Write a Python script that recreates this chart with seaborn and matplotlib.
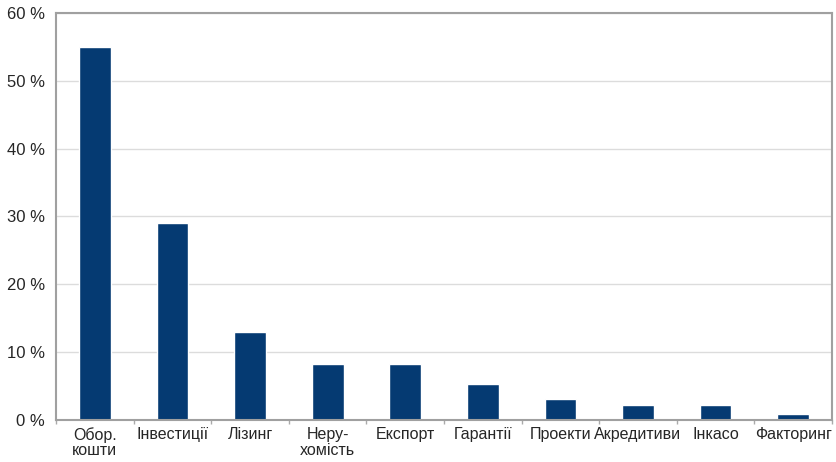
import pandas as pd
import numpy as np
import matplotlib
matplotlib.use("Agg")
import matplotlib.pyplot as plt
import seaborn as sns

sns.set_theme(style="whitegrid")
plt.rcParams['font.family'] = ['Liberation Sans', 'DejaVu Sans']

# дані
categories = ["Обор.\nкошти", "Інвестиції", "Лізинг", "Неру-\nхомість", "Експорт",
              "Гарантії", "Проекти", "Акредитиви", "Інкасо", "Факторинг"]
values = [55.0, 29.0, 13.0, 8.3, 8.3, 5.3, 3.1, 2.2, 2.2, 0.9]
yticks = [0, 10, 20, 30, 40, 50, 60]

df = pd.DataFrame({"cat": categories, "val": values})

fig = plt.figure(figsize=(8.37, 4.62), dpi=100)
ax = fig.add_axes([0.067, 0.091, 0.927, 0.881])

sns.barplot(data=df, x="cat", y="val", color="#053a72", saturation=1, width=0.41, ax=ax)

ax.set_ylim(0, 60)
ax.set_xlim(-0.5, len(categories) - 0.5)
ax.set_yticks(yticks)
ax.set_yticklabels([f"{t} %" for t in yticks], fontsize=12)
ax.set_xticks(range(len(categories)))
ax.set_xticklabels(categories, fontsize=11.5, linespacing=1.05, va="top")
ax.set_xticks(np.arange(-0.5, len(categories)), minor=True)
ax.tick_params(axis="x", which="major", length=0, pad=5)
ax.tick_params(axis="x", which="minor", length=3, color="#aaaaaa", width=1, direction="out", bottom=True)
ax.tick_params(axis="y", length=0, pad=8)
ax.grid(axis="y", color="#dcdcdc", linewidth=1)
ax.grid(axis="x", visible=False)
ax.set_xlabel("")
ax.set_ylabel("")
for s in ax.spines.values():
    s.set_visible(True)
    s.set_color("#a0a0a0")
    s.set_linewidth(1.5)

fig.savefig("out.png", dpi=100)
plt.close()
